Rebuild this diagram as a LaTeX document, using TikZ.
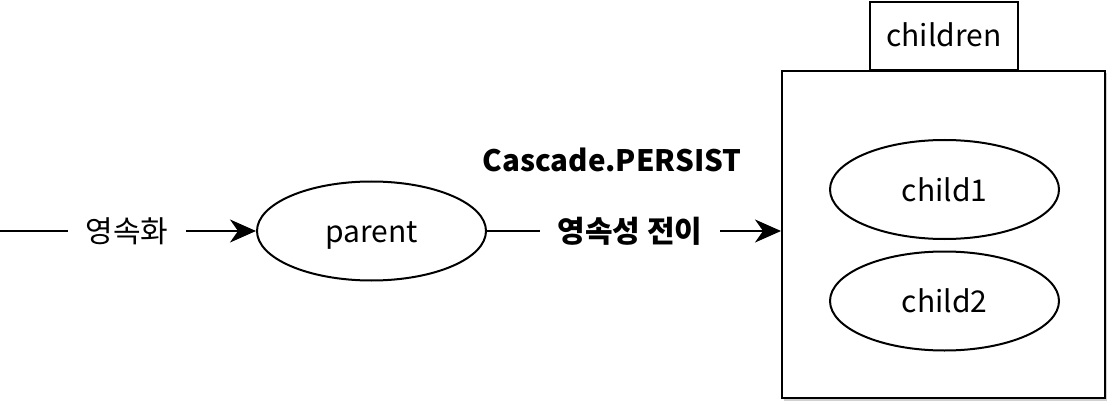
\documentclass[tikz,border=0pt]{standalone}
\usepackage{fontspec}
\setmainfont{Noto Sans CJK KR}
\usetikzlibrary{arrows.meta,shapes.geometric}
\begin{document}
\begin{tikzpicture}[x=1pt,y=-1pt,line width=2pt,
  ell/.style={draw,ellipse,minimum width=229pt,minimum height=99pt,inner sep=0pt,text height=23pt,text depth=0pt,font=\fontsize{30}{32}\selectfont},
  lbl/.style={inner xsep=17pt,inner ysep=0pt,font=\fontsize{30}{32}\selectfont},
  blbl/.style={lbl,font=\fontsize{30}{32}\selectfont\bfseries},
  arr/.style={-{Stealth[length=26pt,width=23pt,inset=8pt]}}]
\useasboundingbox (0,0) rectangle (1115,406);
% shadow of the box
\fill[black!18] (784,73) rectangle (1107,401);
\node[draw,fill=white,minimum width=323pt,minimum height=327pt,inner sep=0pt] (box) at (943.5,234.5) {};
\node[draw,fill=white,minimum width=148pt,minimum height=68pt,inner sep=0pt,text height=22pt,text depth=0pt,anchor=south,font=\fontsize{30}{32}\selectfont] (tab) at (944,71) {children};
\node[ell] (child1) at (944.5,189.5) {child1};
\node[ell] (child2) at (944.5,301) {child2};
\node[ell] (parent) at (371.5,231) {parent};
\coordinate (start) at (0,231);
\node[lbl] (l1) at (127,231) {영속화};
\node[blbl] (l2) at (630,231) {영속성 전이};
\node[blbl,inner xsep=0pt,font=\fontsize{29.5}{32}\selectfont\bfseries] (casc) at (612,160) {Cascade.PERSIST};
\draw (start) -- (l1.west);
\draw[arr] (l1.east) -- (parent.west);
\draw (parent.east) -- (l2.west);
\draw[arr] (l2.east) -- (box.west |- l2.east);
\end{tikzpicture}
\end{document}
